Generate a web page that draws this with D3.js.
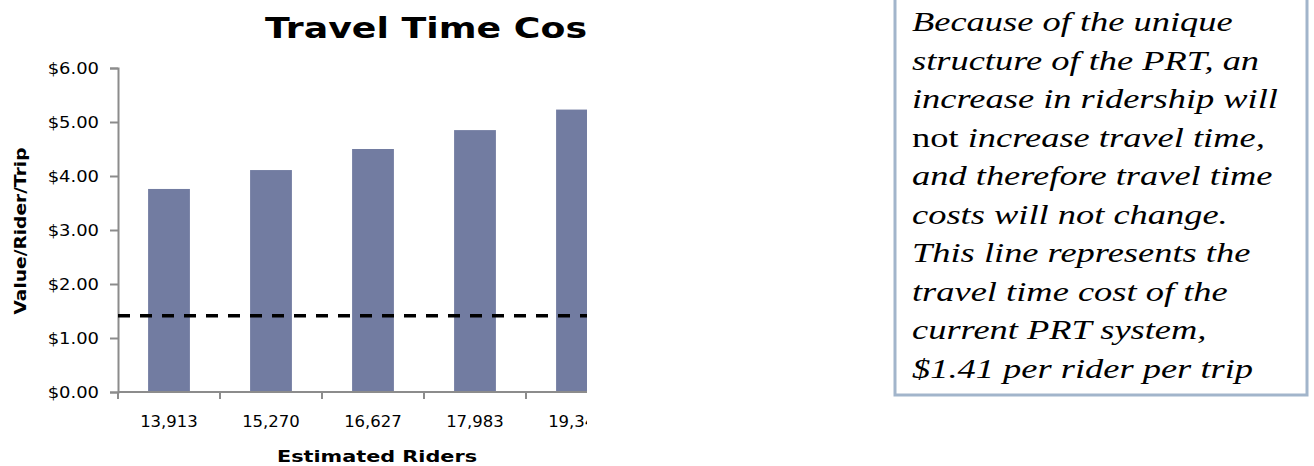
<!DOCTYPE html>
<html>
<head>
<meta charset="utf-8">
<script src="https://cdn.jsdelivr.net/npm/d3@7"></script>
<style>
  html, body { margin: 0; padding: 0; background: #fff; }
  svg { display: block; }
</style>
</head>
<body>
<svg id="chart" width="1314" height="466"></svg>
<script>
// Estimated ridership scenarios and the travel time cost per rider per trip
const riders = ["13,913", "15,270", "16,627", "17,983", "19,340"];
const costPerTrip = [3.76, 4.11, 4.50, 4.85, 5.23];
const currentCost = 1.41;               // current PRT system, $ per rider per trip
const yTicks = [0, 1, 2, 3, 4, 5, 6];

const titleText = "Travel Time Cost";
const xTitle = "Estimated Riders";
const yTitle = "Value/Rider/Trip";

// Note lines; each line is a list of [text, italic] runs
const noteLines = [
  [["Because of the unique", true]],
  [["structure of the PRT, an", true]],
  [["increase in ridership will", true]],
  [["not", false], [" increase travel time,", true]],
  [["and therefore travel time", true]],
  [["costs will not change.", true]],
  [["This line represents the", true]],
  [["travel time cost of the", true]],
  [["current PRT system,", true]],
  [["$1.41 per rider per trip", true]]
];

const svg = d3.select("#chart");
const sans = "DejaVu Sans, Verdana, sans-serif";

// widen a text element horizontally by factor k
function stretch(sel, k) {
  sel.each(function () {
    const len = this.getComputedTextLength();
    d3.select(this).attr("textLength", len * k).attr("lengthAdjust", "spacingAndGlyphs");
  });
}

const left = 118, plotTop = 68, plotBottom = 392, clipRight = 587;

const x = d3.scaleBand()
  .domain(riders)
  .range([left, left + riders.length * 102])
  .paddingInner(0.59)
  .paddingOuter(0.295);

const y = d3.scaleLinear().domain([0, 6]).range([plotBottom, plotTop]);

// the chart area is cut off on the right
svg.append("defs").append("clipPath").attr("id", "cut")
  .append("rect").attr("x", 0).attr("y", 0).attr("width", clipRight).attr("height", 466);

const chart = svg.append("g").attr("clip-path", "url(#cut)");

// title
const title = chart.append("text")
  .attr("x", 265).attr("y", 38)
  .attr("font-family", sans).attr("font-weight", "bold").attr("font-size", 28)
  .attr("fill", "#000")
  .text(titleText);
{
  const node = title.node();
  const partLen = node.getSubStringLength(0, titleText.length - 1);
  const k = 322 / partLen;
  title.attr("textLength", node.getComputedTextLength() * k).attr("lengthAdjust", "spacingAndGlyphs");
}

// bars
chart.append("g").selectAll("rect")
  .data(costPerTrip)
  .join("rect")
  .attr("x", (d, i) => x(riders[i]))
  .attr("y", d => y(d))
  .attr("width", x.bandwidth())
  .attr("height", d => y(0) - y(d))
  .attr("fill", "#727ca1");

// y axis
const yAxis = chart.append("g")
  .attr("transform", `translate(${left},0)`)
  .call(d3.axisLeft(y).tickValues(yTicks).tickSize(8).tickPadding(11)
    .tickFormat(d => "$" + d3.format(".2f")(d)));
yAxis.select(".domain").attr("stroke", "#8c8c8c").attr("stroke-width", 2);
yAxis.selectAll(".tick line").attr("stroke", "#8c8c8c").attr("stroke-width", 2);
yAxis.selectAll(".tick text")
  .attr("font-family", sans).attr("font-size", 16).attr("fill", "#000");
stretch(yAxis.selectAll(".tick text"), 1.12);

// x axis line and boundary ticks
chart.append("line")
  .attr("x1", left).attr("x2", x.range()[1])
  .attr("y1", plotBottom).attr("y2", plotBottom)
  .attr("stroke", "#8c8c8c").attr("stroke-width", 2);
chart.append("g").selectAll("line")
  .data(d3.range(riders.length + 1))
  .join("line")
  .attr("x1", i => x.range()[0] + i * x.step())
  .attr("x2", i => x.range()[0] + i * x.step())
  .attr("y1", plotBottom).attr("y2", plotBottom + 7)
  .attr("stroke", "#8c8c8c").attr("stroke-width", 2);

// x tick labels
const xl = chart.append("g").selectAll("text")
  .data(riders)
  .join("text")
  .attr("x", d => x(d) + x.bandwidth() / 2)
  .attr("y", 427)
  .attr("text-anchor", "middle")
  .attr("font-family", sans).attr("font-size", 15).attr("fill", "#000")
  .text(d => d);
stretch(xl, 1.1);

// current system cost line
chart.append("line")
  .attr("x1", left).attr("x2", x.range()[1])
  .attr("y1", y(currentCost)).attr("y2", y(currentCost))
  .attr("stroke", "#000").attr("stroke-width", 3.5)
  .attr("stroke-dasharray", "12,10");

// axis titles
const xt = svg.append("text")
  .attr("x", 377).attr("y", 462)
  .attr("text-anchor", "middle")
  .attr("font-family", sans).attr("font-weight", "bold").attr("font-size", 16)
  .text(xTitle);
stretch(xt, 200 / xt.node().getComputedTextLength());

const yt = svg.append("text")
  .attr("transform", "translate(26,231) rotate(-90)")
  .attr("text-anchor", "middle")
  .attr("font-family", sans).attr("font-weight", "bold").attr("font-size", 16)
  .text(yTitle);
stretch(yt, 167 / yt.node().getComputedTextLength());

// note box
svg.append("rect")
  .attr("x", 895).attr("y", -10)
  .attr("width", 412).attr("height", 405)
  .attr("fill", "#fff")
  .attr("stroke", "#a2b5cb").attr("stroke-width", 3);

const serif = "Liberation Serif, Times New Roman, serif";
const note = svg.append("g");
const lineTexts = note.selectAll("text")
  .data(noteLines)
  .join("text")
  .attr("x", 912)
  .attr("y", (d, i) => 31 + i * 38.5)
  .attr("font-family", serif).attr("font-size", 27).attr("fill", "#000");
lineTexts.selectAll("tspan")
  .data(d => d)
  .join("tspan")
  .attr("font-style", d => d[1] ? "italic" : "normal")
  .text(d => d[0]);
{
  const ref = lineTexts.filter((d, i) => i === 2).node();
  const k = 366 / ref.getComputedTextLength();
  stretch(lineTexts, k);
}
</script>
</body>
</html>
